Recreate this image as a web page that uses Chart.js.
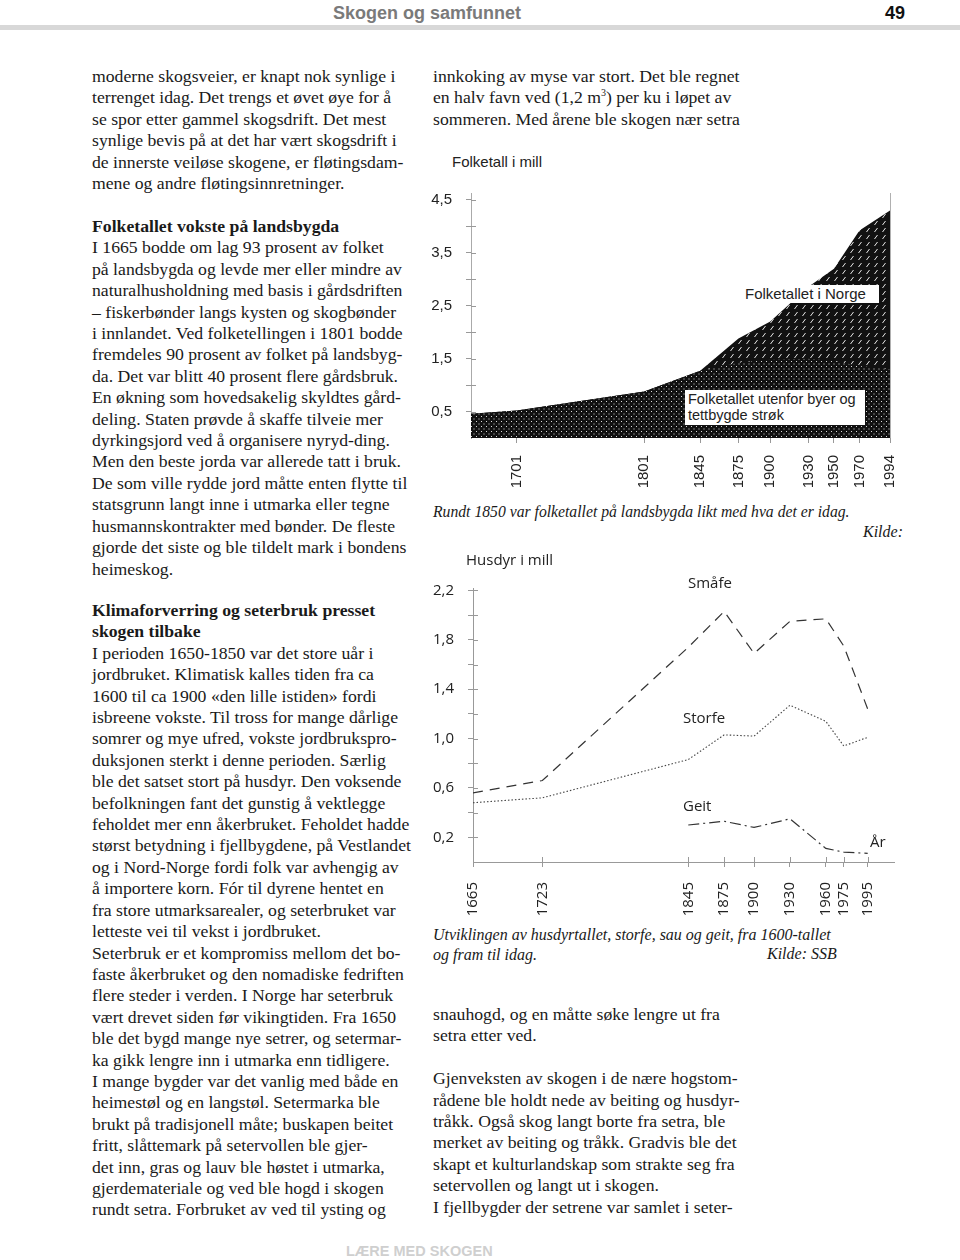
<!DOCTYPE html>
<html lang="no">
<head>
<meta charset="utf-8">
<title>Skogen og samfunnet</title>
<script src="https://cdn.jsdelivr.net/npm/chart.js@4.4.0/dist/chart.umd.min.js"></script>
<style>
  html, body { margin: 0; padding: 0; background: #fff; }
  #page { position: relative; width: 960px; height: 1260px; overflow: hidden; color: #1a1a1a; }
  .hdr { position: absolute; font-family: "Liberation Sans", Arial, sans-serif; font-weight: bold; white-space: nowrap; }
  .bar { position: absolute; left: 0; top: 25px; width: 960px; height: 5px; background: #d8d8d8; }
  .txt { position: absolute; font-family: "Liberation Serif", "Times New Roman", serif; font-size: 17.7px; line-height: 21.4px; white-space: nowrap; }
  .txt b { font-weight: bold; }
  .cap { position: absolute; font-family: "Liberation Serif", "Times New Roman", serif; font-style: italic; font-size: 16px; line-height: 19.5px; white-space: nowrap; }
  .lab { position: absolute; white-space: nowrap; color: #222; z-index: 2; }
  .sans { font-family: "Liberation Sans", Arial, sans-serif; font-size: 15px; }
  .myr { font-family: "Open Sans", "Noto Sans", sans-serif; font-size: 15px; }
  .box { background: #fff; padding: 0 3px; }
  canvas { position: absolute; }
</style>
</head>
<body>
<div id="page">
  <div class="hdr" style="left:333px; top:3px; font-size:18px; color:#7a7a7a;">Skogen og samfunnet</div>
  <div class="hdr" style="left:885px; top:3px; font-size:18px; color:#111;">49</div>
  <div class="bar"></div>

  <div class="txt" style="left:92px; top:66px;">
    moderne skogsveier, er knapt nok synlige i<br>
    terrenget idag. Det trengs et øvet øye for å<br>
    se spor etter gammel skogsdrift. Det mest<br>
    synlige bevis på at det har vært skogsdrift i<br>
    de innerste veiløse skogene, er fløtingsdam-<br>
    mene og andre fløtingsinnretninger.
  </div>

  <div class="txt" style="left:92px; top:216px;">
    <b>Folketallet vokste på landsbygda</b><br>
    I 1665 bodde om lag 93 prosent av folket<br>
    på landsbygda og levde mer eller mindre av<br>
    naturalhusholdning med basis i gårdsdriften<br>
    – fiskerbønder langs kysten og skogbønder<br>
    i innlandet. Ved folketellingen i 1801 bodde<br>
    fremdeles 90 prosent av folket på landsbyg-<br>
    da. Det var blitt 40 prosent flere gårdsbruk.<br>
    En økning som hovedsakelig skyldtes gård-<br>
    deling. Staten prøvde å skaffe tilveie mer<br>
    dyrkingsjord ved å organisere nyryd-ding.<br>
    Men den beste jorda var allerede tatt i bruk.<br>
    De som ville rydde jord måtte enten flytte til<br>
    statsgrunn langt inne i utmarka eller tegne<br>
    husmannskontrakter med bønder. De fleste<br>
    gjorde det siste og ble tildelt mark i bondens<br>
    heimeskog.
  </div>

  <div class="txt" style="left:92px; top:600px;">
    <b>Klimaforverring og seterbruk presset</b><br>
    <b>skogen tilbake</b><br>
    I perioden 1650-1850 var det store uår i<br>
    jordbruket. Klimatisk kalles tiden fra ca<br>
    1600 til ca 1900 «den lille istiden» fordi<br>
    isbreene vokste. Til tross for mange dårlige<br>
    somrer og mye ufred, vokste jordbrukspro-<br>
    duksjonen sterkt i denne perioden. Særlig<br>
    ble det satset stort på husdyr. Den voksende<br>
    befolkningen fant det gunstig å vektlegge<br>
    feholdet mer enn åkerbruket. Feholdet hadde<br>
    størst betydning i fjellbygdene, på Vestlandet<br>
    og i Nord-Norge fordi folk var avhengig av<br>
    å importere korn. Fór til dyrene hentet en<br>
    fra store utmarksarealer, og seterbruket var<br>
    letteste vei til vekst i jordbruket.<br>
    Seterbruk er et kompromiss mellom det bo-<br>
    faste åkerbruket og den nomadiske fedriften<br>
    flere steder i verden. I Norge har seterbruk<br>
    vært drevet siden før vikingtiden. Fra 1650<br>
    ble det bygd mange nye setrer, og setermar-<br>
    ka gikk lengre inn i utmarka enn tidligere.<br>
    I mange bygder var det vanlig med både en<br>
    heimestøl og en langstøl. Setermarka ble<br>
    brukt på tradisjonell måte; buskapen beitet<br>
    fritt, slåttemark på setervollen ble gjer-<br>
    det inn, gras og lauv ble høstet i utmarka,<br>
    gjerdemateriale og ved ble hogd i skogen<br>
    rundt setra. Forbruket av ved til ysting og
  </div>

  <div class="txt" style="left:433px; top:66px;">
    innkoking av myse var stort. Det ble regnet<br>
    en halv favn ved (1,2 m<sup style="font-size:10px; line-height:0;">3</sup>) per ku i løpet av<br>
    sommeren. Med årene ble skogen nær setra
  </div>

  <!-- top chart -->
  <div class="lab sans" style="left:452px; top:153px;">Folketall i mill</div>
  <canvas id="folkChart" width="535" height="325" style="left:425px; top:170px;"></canvas>
  <div class="lab sans box" style="left:742px; top:285px; height:18px; line-height:18px; width:131px;">Folketallet i Norge</div>
  <div class="lab sans box" style="left:685px; top:390px; height:34px; line-height:16px; width:174px; font-size:14.5px; padding-top:1px;">Folketallet utenfor byer og<br>tettbygde strøk</div>

  <div class="cap" style="left:433px; top:502px; font-size:15.7px;">Rundt 1850 var folketallet på landsbygda likt med hva det er idag.</div>
  <div class="cap" style="left:863px; top:522px;">Kilde:</div>

  <!-- bottom chart -->
  <div class="lab myr" style="left:466px; top:549px;">Husdyr i mill</div>
  <canvas id="dyrChart" width="535" height="355" style="left:425px; top:565px;"></canvas>
  <div class="lab myr" style="left:688px; top:572px;">Småfe</div>
  <div class="lab myr" style="left:683px; top:707px;">Storfe</div>
  <div class="lab myr" style="left:683px; top:795px;">Geit</div>
  <div class="lab myr" style="left:870px; top:831px;">År</div>

  <div class="cap" style="left:433px; top:925px;">Utviklingen av husdyrtallet, storfe, sau og geit, fra 1600-tallet<br>og fram til idag.</div>
  <div class="cap" style="left:767px; top:944px;">Kilde: SSB</div>

  <div class="txt" style="left:433px; top:1004px;">
    snauhogd, og en måtte søke lengre ut fra<br>
    setra etter ved.<br>
    <br>
    Gjenveksten av skogen i de nære hogstom-<br>
    rådene ble holdt nede av beiting og husdyr-<br>
    tråkk. Også skog langt borte fra setra, ble<br>
    merket av beiting og tråkk. Gradvis ble det<br>
    skapt et kulturlandskap som strakte seg fra<br>
    setervollen og langt ut i skogen.<br>
    I fjellbygder der setrene var samlet i seter-
  </div>

  <div class="hdr" style="left:346px; top:1243px; font-size:14.5px; color:#cfcfcf;">LÆRE MED SKOGEN</div>
</div>

<script>
'use strict';

// Folketall i mill (1665-1994)
var folkYears = [1665, 1701, 1801, 1845, 1875, 1900, 1930, 1950, 1970, 1994];
var folkNorge = [0.46, 0.52, 0.88, 1.27, 1.88, 2.2, 2.86, 3.2, 3.92, 4.3];
var folkUtenfor = [0.46, 0.52, 0.88, 1.27, 1.42, 1.48, 1.5, 1.46, 1.36, 1.3];
var folkXTicks = [1701, 1801, 1845, 1875, 1900, 1930, 1950, 1970, 1994];
var folkYTicks = [0.5, 1, 1.5, 2, 2.5, 3, 3.5, 4, 4.5];

// Husdyr i mill (1665-1995)
var dyrYears = [1665, 1723, 1845, 1875, 1900, 1930, 1960, 1975, 1995];
var smafe = [0.56, 0.66, 1.74, 2.03, 1.69, 1.95, 1.97, 1.75, 1.24];
var storfe = [0.48, 0.52, 0.83, 1.03, 1.02, 1.27, 1.14, 0.94, 1.01];
var geitYears = [1845, 1875, 1900, 1930, 1960, 1975, 1995];
var geit = [0.30, 0.33, 0.28, 0.35, 0.11, 0.08, 0.07];
var dyrYTicks = [0.2, 0.4, 0.6, 0.8, 1.0, 1.2, 1.4, 1.6, 1.8, 2.0, 2.2];

function points(xs, ys) {
    var out = [];
    for (var i = 0; i < xs.length; i++) {
        out.push({x: xs[i], y: ys[i]});
    }
    return out;
}

function comma(v) {
    return v.toFixed(1).replace('.', ',');
}

// black fill with small white marks
function makePattern(kind) {
    var c = document.createElement('canvas');
    var g = c.getContext('2d');
    if (kind === 'dots') {
        c.width = 5; c.height = 5;
        g.fillStyle = '#111';
        g.fillRect(0, 0, 5, 5);
        g.fillStyle = 'rgba(255,255,255,0.85)';
        g.fillRect(1, 1, 1, 1);
        g.fillRect(3.5, 3.5, 1, 1);
    } else {
        c.width = 8; c.height = 7;
        g.fillStyle = '#111';
        g.fillRect(0, 0, 8, 7);
        g.strokeStyle = 'rgba(255,255,255,0.9)';
        g.lineWidth = 1;
        g.beginPath();
        g.moveTo(1.5, 6);
        g.lineTo(4.5, 2);
        g.stroke();
    }
    return g.createPattern(c, 'repeat');
}

// small ticks on the inside of the axes so they cross the axis line
var crossTicks = {
    id: 'crossTicks',
    beforeDatasetsDraw: function (chart, args, opts) {
        var c = chart.ctx;
        var ys = chart.scales.y;
        var xs = chart.scales.x;
        c.save();
        c.strokeStyle = '#999';
        c.lineWidth = 1;
        ys.ticks.forEach(function (t) {
            var py = Math.round(ys.getPixelForValue(t.value)) + 0.5;
            c.beginPath();
            c.moveTo(ys.right, py);
            c.lineTo(ys.right + 5, py);
            c.stroke();
        });
        if (opts.xToo) {
            xs.ticks.forEach(function (t) {
                var px = Math.round(xs.getPixelForValue(t.value)) + 0.5;
                c.beginPath();
                c.moveTo(px, xs.top);
                c.lineTo(px, xs.top - 5);
                c.stroke();
            });
        }
        c.restore();
    }
};

var folkCtx = document.getElementById('folkChart').getContext('2d');
var folkChart = new Chart(folkCtx, {
    type: 'line',
    data: {
        datasets: [{
            label: 'Folketallet utenfor byer og tettbygde strøk',
            data: points(folkYears, folkUtenfor),
            fill: 'origin',
            backgroundColor: makePattern('dots'),
            borderWidth: 0,
            pointRadius: 0,
            tension: 0
        }, {
            label: 'Folketallet i Norge',
            data: points(folkYears, folkNorge),
            fill: 'origin',
            backgroundColor: makePattern('dashes'),
            borderWidth: 0,
            pointRadius: 0,
            tension: 0
        }]
    },
    options: {
        animation: false,
        responsive: false,
        devicePixelRatio: 1,
        layout: {padding: {top: 13, right: 70, left: 0, bottom: 0}},
        plugins: {legend: {display: false}, tooltip: {enabled: false}, crossTicks: {xToo: false}},
        scales: {
            x: {
                type: 'linear',
                min: 1665,
                max: 1994,
                afterBuildTicks: function (s) {
                    s.ticks = folkXTicks.map(function (v) { return {value: v}; });
                },
                afterFit: function (s) { s.height = 57; },
                border: {display: false},
                grid: {
                    drawOnChartArea: true,
                    tickLength: 5,
                    tickColor: '#999',
                    color: function (ctx) {
                        return ctx.tick && ctx.tick.value === 1994 ? '#b0b0b0' : 'rgba(0,0,0,0)';
                    }
                },
                ticks: {
                    autoSkip: false,
                    minRotation: 90,
                    maxRotation: 90,
                    padding: 12,
                    color: '#222',
                    font: {family: 'Liberation Sans', size: 15},
                    callback: function (v) { return String(v); }
                }
            },
            y: {
                min: 0,
                max: 4.63,
                afterBuildTicks: function (s) {
                    s.ticks = folkYTicks.map(function (v) { return {value: v}; });
                },
                afterFit: function (s) { s.width = 46; },
                border: {color: '#aaa'},
                grid: {drawOnChartArea: false, tickLength: 5, tickColor: '#999'},
                ticks: {
                    padding: 14,
                    color: '#222',
                    font: {family: 'Liberation Sans', size: 15},
                    callback: function (v) { return (v * 2) % 2 === 1 ? comma(v) : ''; }
                }
            }
        }
    },
    plugins: [crossTicks]
});

var dyrCtx = document.getElementById('dyrChart').getContext('2d');
var dyrChart = new Chart(dyrCtx, {
    type: 'line',
    data: {
        datasets: [{
            label: 'Småfe',
            data: points(dyrYears, smafe),
            borderColor: '#333',
            borderWidth: 1.2,
            borderDash: [10, 7],
            pointRadius: 0,
            fill: false,
            tension: 0
        }, {
            label: 'Storfe',
            data: points(dyrYears, storfe),
            borderColor: '#444',
            borderWidth: 1.1,
            borderDash: [1.5, 2],
            pointRadius: 0,
            fill: false,
            tension: 0
        }, {
            label: 'Geit',
            data: points(geitYears, geit),
            borderColor: '#333',
            borderWidth: 1.2,
            borderDash: [11, 4, 2, 4],
            pointRadius: 0,
            fill: false,
            tension: 0
        }]
    },
    options: {
        animation: false,
        responsive: false,
        devicePixelRatio: 1,
        layout: {padding: {top: 11, right: 66, left: 0, bottom: 0}},
        plugins: {legend: {display: false}, tooltip: {enabled: false}, crossTicks: {xToo: true}},
        scales: {
            x: {
                type: 'linear',
                min: 1665,
                max: 2017,
                afterBuildTicks: function (s) {
                    s.ticks = dyrYears.map(function (v) { return {value: v}; });
                },
                afterFit: function (s) { s.height = 58; },
                border: {color: '#999'},
                grid: {drawOnChartArea: false, tickLength: 5, tickColor: '#999'},
                ticks: {
                    autoSkip: false,
                    minRotation: 90,
                    maxRotation: 90,
                    padding: 15,
                    color: '#222',
                    font: {family: 'Open Sans', size: 15},
                    callback: function (v) { return String(v); }
                }
            },
            y: {
                min: 0,
                max: 2.22,
                afterBuildTicks: function (s) {
                    s.ticks = dyrYTicks.map(function (v) { return {value: v}; });
                },
                afterFit: function (s) { s.width = 48; },
                border: {color: '#999'},
                grid: {drawOnChartArea: false, tickLength: 5, tickColor: '#999'},
                ticks: {
                    padding: 14,
                    color: '#222',
                    font: {family: 'Open Sans', size: 15},
                    callback: function (v) {
                        var k = Math.round(v * 10);
                        return (k % 4 === 2) ? comma(v) : '';
                    }
                }
            }
        }
    },
    plugins: [crossTicks]
});
</script>
</body>
</html>
